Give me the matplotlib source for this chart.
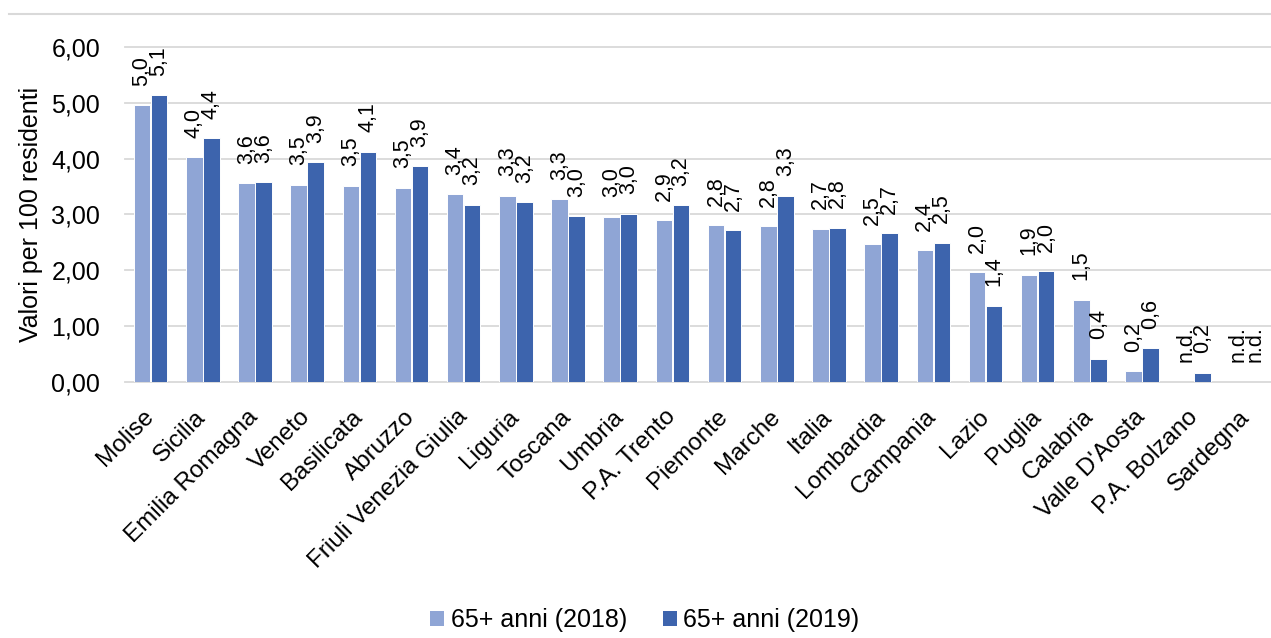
import numpy as np
import matplotlib
matplotlib.use("Agg")
import matplotlib.pyplot as plt
from matplotlib.lines import Line2D
from matplotlib.patches import Patch

# Tasso per 100 residenti 65+ anni, per regione
regioni = ["Molise", "Sicilia", "Emilia Romagna", "Veneto", "Basilicata", "Abruzzo",
           "Friuli Venezia Giulia", "Liguria", "Toscana", "Umbria", "P.A. Trento",
           "Piemonte", "Marche", "Italia", "Lombardia", "Campania", "Lazio", "Puglia",
           "Calabria", "Valle D'Aosta", "P.A. Bolzano", "Sardegna"]
val_2018 = [4.96, 4.02, 3.56, 3.53, 3.51, 3.48, 3.36, 3.33, 3.27, 2.96, 2.89,
            2.81, 2.79, 2.74, 2.46, 2.36, 1.96, 1.92, 1.47, 0.19, np.nan, np.nan]
val_2019 = [5.14, 4.36, 3.58, 3.93, 4.12, 3.86, 3.17, 3.22, 2.97, 3.01, 3.16,
            2.72, 3.33, 2.76, 2.66, 2.49, 1.36, 1.98, 0.41, 0.60, 0.16, np.nan]
serie = ["65+ anni (2018)", "65+ anni (2019)"]
yticks = [0, 1, 2, 3, 4, 5, 6]

colori = ["#8FA5D5", "#3D64AD"]
grid_col = "#D9D9D9"

plt.rcParams["font.family"] = ["Liberation Sans", "DejaVu Sans"]

W, H = 1271, 638
fig = plt.figure(figsize=(W / 100, H / 100), dpi=100)
ax = fig.add_axes([124.5 / W, (H - 381.7) / H, 1148 / W, 334.7 / H])

x = np.arange(len(regioni))
w = 0.316
off = 0.163
ax.bar(x - off, val_2018, w, color=colori[0], edgecolor="white", linewidth=0.7, zorder=3)
ax.bar(x + off, val_2019, w, color=colori[1], edgecolor="white", linewidth=0.7, zorder=3)

ax.set_xlim(-0.5, len(regioni) - 0.5)
ax.set_ylim(0, 6)
for v in yticks:
    ax.axhline(v, color=grid_col, linewidth=1.3, zorder=1, clip_on=False)

ax.set_yticks(yticks)
ax.set_yticklabels([f"{v:.2f}".replace(".", ",") for v in yticks], fontsize=18)
ax.tick_params(axis="y", length=0, pad=17.5)

ax.set_xticks(x)
ax.set_xticklabels(regioni, fontsize=17.5, rotation=45, ha="right", va="center",
                   rotation_mode="anchor")
ax.tick_params(axis="x", length=0, pad=23)

for s in ax.spines.values():
    s.set_visible(False)

ax.set_ylabel("Valori per 100 residenti", fontsize=18)
ax.yaxis.set_label_coords((43 - 124.5) / 1148, 0.5)

# etichette dei valori, ruotate sopra le barre
for vals, dx in ((val_2018, -off), (val_2019, off)):
    for xi, v in zip(x, vals):
        if np.isnan(v):
            txt, y = "n.d.", 0.0
        else:
            txt, y = f"{v:.1f}".replace(".", ","), v
        ax.annotate(txt, xy=(xi + dx, y), xytext=(0, 14), textcoords="offset points",
                    rotation=90, ha="center", va="bottom", fontsize=15.5, zorder=4)

# linea di separazione in alto
fig.add_artist(Line2D([9 / W, 1.0], [1 - 14 / H] * 2, color=grid_col, linewidth=1.5,
                      transform=fig.transFigure))

handles = [Patch(facecolor=c, edgecolor="none") for c in colori]
fig.legend(handles, serie, loc="center", bbox_to_anchor=(645 / W, 1 - 620 / H),
           ncol=2, frameon=False, fontsize=18, handlelength=0.56, handleheight=0.56,
           handletextpad=0.25, columnspacing=1.45)

fig.savefig("out.png", dpi=100)
